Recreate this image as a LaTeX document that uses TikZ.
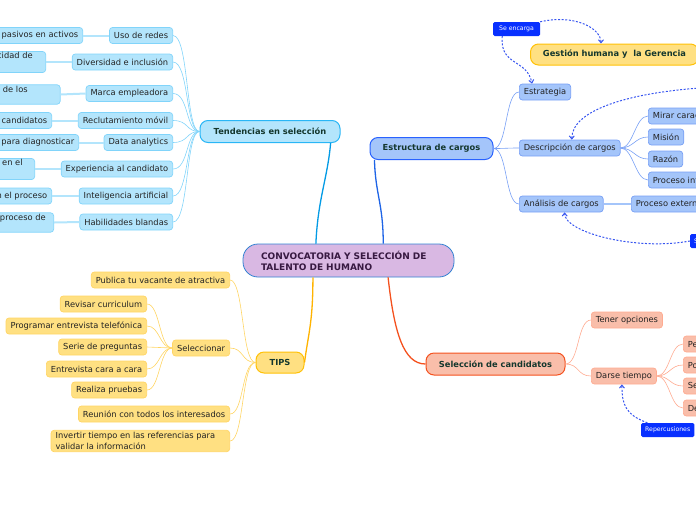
\documentclass[tikz,border=0pt]{standalone}
\usepackage{fontspec}
\setmainfont{DejaVu Sans}
\usetikzlibrary{arrows.meta,calc}
\definecolor{txt}{RGB}{35,35,35}
\definecolor{headtxt}{RGB}{20,55,45}
\definecolor{centtxt}{RGB}{55,25,65}
\definecolor{centfill}{RGB}{217,184,227}
\definecolor{centdraw}{RGB}{50,130,210}
\definecolor{tfill}{RGB}{179,229,252}
\definecolor{tdraw}{RGB}{41,182,246}
\definecolor{tcdraw}{RGB}{129,212,250}
\definecolor{tline}{RGB}{3,155,229}
\definecolor{efill}{RGB}{164,197,250}
\definecolor{edraw}{RGB}{41,98,255}
\definecolor{ecdraw}{RGB}{120,160,245}
\definecolor{eline}{RGB}{30,100,230}
\definecolor{sfill}{RGB}{249,190,170}
\definecolor{sdraw}{RGB}{244,81,30}
\definecolor{scdraw}{RGB}{255,171,145}
\definecolor{yfill}{RGB}{255,224,130}
\definecolor{ydraw}{RGB}{255,193,7}
\definecolor{ycdraw}{RGB}{255,213,100}
\definecolor{yline}{RGB}{255,179,0}
\definecolor{tagblue}{RGB}{8,48,255}
\definecolor{dashblue}{RGB}{55,85,240}
\begin{document}
\begin{tikzpicture}[x=1pt,y=-1pt,
  cbox/.style={rounded corners=3pt, draw, line width=0.7pt, inner xsep=4.5pt, inner ysep=1pt,
    minimum height=16pt, font=\fontsize{8.3}{11}\selectfont, text=txt},
  mbox/.style={rounded corners=8pt, draw, line width=1pt, inner xsep=6pt, inner ysep=1pt,
    minimum height=22pt, font=\bfseries\fontsize{8.3}{10}\selectfont, text=headtxt},
  tagbox/.style={fill=tagblue, text=white, rounded corners=1.5pt, inner xsep=4pt, inner ysep=1pt,
    minimum height=14pt, font=\fontsize{6.2}{7}\selectfont},
  tch/.style={cbox, fill=tfill, draw=tcdraw},
  ech/.style={cbox, fill=efill, draw=ecdraw},
  sch/.style={cbox, fill=sfill, draw=scdraw},
  ych/.style={cbox, fill=yfill, draw=ycdraw},
  tlink/.style={draw=tcdraw, line width=0.6pt},
  tlink2/.style={draw=tfill, line width=2pt},
  elink/.style={draw=ecdraw, line width=0.6pt},
  elink2/.style={draw=efill, line width=2pt},
  slink/.style={draw=scdraw, line width=0.6pt},
  ylink/.style={draw=ycdraw, line width=0.6pt},
  dlink/.style={draw=dashblue, line width=1pt, dash pattern=on 2pt off 1.6pt, -{Straight Barb[length=3pt,width=5pt]}}
]
\useasboundingbox (0,0) rectangle (696,520);
\clip (0,0) rectangle (696,520);

% central
\node[draw=centdraw, fill=centfill, line width=0.8pt, rounded corners=15pt, minimum height=33pt,
  text width=175pt, inner xsep=18pt, align=left, text=centtxt,
  font=\bfseries\fontsize{9}{11}\selectfont] (c) at (348.5,260.5)
  {CONVOCATORIA Y SELECCIÓN DE\\TALENTO DE HUMANO};

% main branches
\node[mbox, fill=tfill, draw=tdraw, minimum width=140pt] (ten) at (270,131.5) {Tendencias en selección};
\node[mbox, fill=efill, draw=edraw, minimum width=123pt] (est) at (431.5,148.5) {Estructura de cargos};
\node[mbox, fill=sfill, draw=sdraw, minimum width=139pt] (sel) at (495.5,364) {Selección de candidatos};
\node[mbox, fill=yfill, draw=ydraw, minimum width=48pt, minimum height=21pt] (tips) at (280,362.5) {TIPS};
\node[mbox, fill=yfill, draw=ydraw, minimum width=168pt, minimum height=21pt] (ges) at (614.5,54.5) {Gestión humana y\ \ la Gerencia};

\draw[tline, line width=1.3pt] ($(c.north west)!0.346!(c.north east)$) .. controls +(2,-45) and +(-3,35) .. ($(ten.south west)!0.93!(ten.south east)$);
\draw[eline, line width=1.3pt] ($(c.north west)!0.664!(c.north east)$) .. controls +(0,-40) and +(1,35) .. ($(est.south west)!0.04!(est.south east)$);
\draw[sdraw, line width=1.3pt] ($(c.south west)!0.687!(c.south east)$) .. controls +(6,55) and +(-22,0) .. (sel.west);
\draw[yline, line width=1.3pt] ($(c.south west)!0.332!(c.south east)$) .. controls +(0,45) and +(4,-30) .. (tips.east);

% Tendencias children
\foreach \n/\y/\t in {t1/35.5/Uso de redes, t2/62/Diversidad e inclusión, t3/93.5/Marca empleadora,
  t4/120.5/Reclutamiento móvil, t5/142.5/Data analytics, t6/169/Experiencia al candidato,
  t7/196/Inteligencia artificial, t8/222/Habilidades blandas}
  {\node[tch, anchor=east] (\n) at (173,\y) {\t};
   \draw[tlink] (ten.west) .. controls +(-14,0) and +(16,0) .. (\n.east);}

% Tendencias grandchildren
\node[tch, anchor=east] (g1) at (83,35.5) {Convertir candidatos pasivos en activos};
\node[tch, anchor=east, align=left] (g2) at (46,62) {Mejorar la capacidad de\rule{8.5pt}{0pt}\\respuesta};
\node[tch, anchor=east, align=left] (g3) at (60.5,94.5) {Mejorar la imagen de los\rule{28pt}{0pt}\\candidatos};
\node[tch, anchor=east] (g4) at (52,120.5) {Atraer candidatos};
\node[tch, anchor=east, align=left] (g5) at (79,142.5) {Usar datos para diagnosticar};
\node[tch, anchor=east, align=left] (g6) at (35,169) {Mejorar la experiencia en el\rule{7.5pt}{0pt}\\proceso};
\node[tch, anchor=east] (g7) at (52,196) {Automatizar tareas en el proceso};
\node[tch, anchor=east, align=left] (g8) at (54,222.5) {Evaluar competencias en el proceso de\rule{3.5pt}{0pt}\\selección};
\foreach \a/\b in {t1/g1,t2/g2,t3/g3,t4/g4,t5/g5,t6/g6,t7/g7,t8/g8}
  \draw[tlink2] (\a.west) -- (\b.east);

% Estructura children
\node[ech, anchor=west] (e1) at (519,92) {Estrategia};
\node[ech, anchor=west] (e2) at (519,148) {Descripción de cargos};
\node[ech, anchor=west] (e3) at (519,204) {Análisis de cargos};
\foreach \n in {e1,e2,e3}
  \draw[elink] (est.east) .. controls +(14,0) and +(-14,0) .. (\n.west);
\node[ech, anchor=west] (d1) at (648,116) {Mirar características del cargo};
\node[ech, anchor=west] (d2) at (648,137) {Misión};
\node[ech, anchor=west] (d3) at (648,159) {Razón};
\node[ech, anchor=west] (d4) at (648,180) {Proceso interno};
\foreach \n in {d1,d2,d3,d4}
  \draw[elink] (e2.east) .. controls +(13,0) and +(-13,0) .. (\n.west);
\node[ech, anchor=west] (a1) at (631,204) {Proceso externo};
\draw[elink2] (e3.east) -- (a1.west);

% Seleccion children
\node[sch, anchor=west] (s1) at (591,320) {Tener opciones};
\node[sch, anchor=west] (s2) at (591,376) {Darse tiempo};
\foreach \n in {s1,s2}
  \draw[slink] (sel.east) .. controls +(14,0) and +(-14,0) .. (\n.west);
\node[sch, anchor=west] (p1) at (683,344) {Perfil del candidato};
\node[sch, anchor=west] (p2) at (683,365) {Potencial};
\node[sch, anchor=west] (p3) at (683,386) {Seguridad};
\node[sch, anchor=west] (p4) at (683,408) {Decisión};
\foreach \n in {p1,p2,p3,p4}
  \draw[slink] (s2.east) .. controls +(13,0) and +(-13,0) .. (\n.west);

% TIPS children
\node[ych, anchor=east] (y1) at (230,280) {Publica tu vacante de atractiva};
\node[ych, anchor=east] (y2) at (230,348) {Seleccionar};
\node[ych, anchor=east] (y3) at (230,414) {Reunión con todos los interesados};
\node[ych, anchor=east, align=left, inner ysep=2pt] (y4) at (230,441) {Invertir tiempo en las referencias para\rule{10pt}{0pt}\\validar la información};
\foreach \n in {y1,y2,y3,y4}
  \draw[ylink] (tips.west) .. controls +(-14,0) and +(14,0) .. (\n.east);
\node[ych, anchor=east] (r1) at (147,304) {Revisar curriculum};
\node[ych, anchor=east] (r2) at (147,326) {Programar entrevista telefónica};
\node[ych, anchor=east] (r3) at (147,347) {Serie de preguntas};
\node[ych, anchor=east] (r4) at (147,369) {Entrevista cara a cara};
\node[ych, anchor=east] (r5) at (147,390) {Realiza pruebas};
\foreach \n in {r1,r2,r3,r4,r5}
  \draw[ylink] (y2.west) .. controls +(-13,0) and +(13,0) .. (\n.east);

% tags and dashed relations
\node[tagbox, minimum width=47pt] (enc) at (516.5,29) {Se encarga};
\node[tagbox, anchor=west] (rep) at (641,430) {Repercusiones};
\node[tagbox, anchor=west] (sed) at (690,241) {Se divide en};
\coordinate (off) at (700,88);

\draw[dlink] (enc.north east) .. controls +(35,-8) and +(0,-15) .. ($(ges.north west)!0.42!(ges.north east)$);
\draw[dlink] ($(enc.south west)!0.2!(enc.south east)$) .. controls +(-3,30) and +(-5,-25) .. ($(e1.north west)!0.25!(e1.north east)$);
\draw[dlink] (off) .. controls +(-70,5) and +(0,-30) .. ($(e2.north west)!0.52!(e2.north east)$);
\draw[dlink] (sed.west) .. controls +(-55,10) and +(0,20) .. ($(e3.south west)!0.54!(e3.south east)$);
\draw[dlink] ($(rep.north west)!0.12!(rep.north east)$) .. controls +(-22,-8) and +(0,20) .. ($(s2.south west)!0.47!(s2.south east)$);
\end{tikzpicture}
\end{document}
